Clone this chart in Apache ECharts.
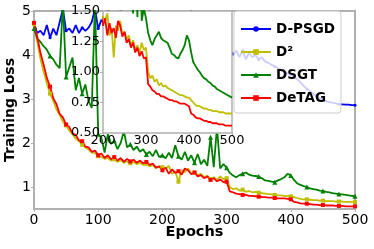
<!DOCTYPE html>
<html><head><meta charset="utf-8">
<script src="https://cdn.jsdelivr.net/npm/echarts@6/dist/echarts.min.js"></script>
<style>html,body{margin:0;padding:0;background:#fff}#c{width:374px;height:249px}</style>
</head><body><div id="c"></div>
<script>
const epochs = [0,5,10,15,20,25,30,35,40,45,50,55,60,65,70,75,80,85,90,95,
100,105,110,115,120,125,130,135,140,145,150,155,160,165,170,175,180,185,190,195,
200,205,210,215,220,225,230,235,240,245,250,255,260,265,270,275,280,285,290,295,
300,305,310,315,320,325,330,335,340,345,350,355,360,365,370,375,380,385,390,395,
400,405,410,415,420,425,430,435,440,445,450,455,460,465,470,475,480,485,490,495,500];

const dpsgd = [4.73,4.5,4.55,4.45,4.68,4.39,4.6,4.45,4.75,5.05,4.55,4.6,4.5,4.68,4.5,4.62,4.55,4.62,4.75,5.05,
4.6,4.8,4.7,5.05,4.75,4.85,4.7,5.05,4.8,4.75,4.9,4.7,5.05,4.8,4.85,4.75,5.02,4.8,4.7,4.9,
4.75,4.85,4.7,4.8,4.75,4.9,4.7,4.85,4.75,5.02,4.8,4.7,4.85,4.75,4.9,4.7,4.85,4.8,4.75,4.9,
4.7,4.15,4.0,4.1,3.95,4.1,3.9,4.05,3.95,4.0,3.9,3.95,3.85,3.82,3.78,3.74,3.7,3.66,3.62,3.58,
3.55,3.5,3.45,3.38,3.3,3.23,3.18,3.12,3.06,3.02,2.98,2.95,2.93,2.92,2.9,2.88,2.88,2.87,2.87,2.86,2.86];

const d2 = [4.7,4.3,3.92,3.62,3.36,3.12,2.96,2.76,2.64,2.48,2.4,2.28,2.2,2.1,2.04,1.96,1.9,1.85,1.78,1.77,
1.7,1.69,1.64,1.66,1.6,1.63,1.57,1.61,1.55,1.58,1.54,1.57,1.52,1.55,1.5,1.53,1.47,1.5,1.43,1.46,
1.45,1.42,1.48,1.3,1.36,1.12,1.38,1.34,1.42,1.3,1.33,1.27,1.3,1.22,1.26,1.18,1.22,1.16,1.24,1.18,
1.2,1.0,0.95,0.97,0.92,0.94,0.89,0.91,0.88,0.89,0.87,0.86,0.85,0.84,0.83,0.82,0.81,0.81,0.8,0.79,
0.79,0.77,0.75,0.73,0.72,0.72,0.71,0.7,0.7,0.69,0.69,0.68,0.68,0.68,0.67,0.67,0.67,0.66,0.66,0.66,0.66];

const dsgt = [4.6,4.38,4.3,4.2,4.12,3.98,3.9,3.78,3.7,5.2,3.5,3.72,3.94,3.2,3.48,3.12,3.33,2.95,2.8,5.2,
2.2,2.12,1.78,2.2,1.98,2.05,1.86,2.0,2.27,1.9,1.97,1.84,1.92,1.8,1.86,1.74,1.8,1.7,1.84,1.68,
1.72,1.65,1.78,1.66,1.95,1.7,1.62,1.8,1.6,1.72,1.55,1.75,1.52,1.62,1.48,2.13,1.45,2.36,1.42,1.52,
1.44,1.32,1.26,1.22,1.27,1.3,1.33,1.28,1.26,1.25,1.24,1.2,1.15,1.14,1.12,1.11,1.15,1.18,1.22,1.3,
1.26,1.16,1.08,1.05,1.02,1.0,0.97,0.95,0.94,0.92,0.91,0.89,0.88,0.86,0.85,0.84,0.83,0.82,0.81,0.8,0.79];

const detag = [4.73,4.42,4.05,3.78,3.48,3.28,3.02,2.88,2.66,2.58,2.42,2.36,2.22,2.18,2.06,2.04,1.92,1.9,1.8,1.83,
1.72,1.76,1.66,1.72,1.63,1.68,1.6,1.66,1.57,1.64,1.58,1.62,1.55,1.6,1.54,1.57,1.5,1.53,1.44,1.47,
1.38,1.44,1.3,1.4,1.32,1.36,1.28,1.42,1.38,1.29,1.33,1.24,1.27,1.2,1.24,1.16,1.2,1.13,1.17,1.11,
1.12,0.9,0.88,0.85,0.84,0.82,0.82,0.8,0.8,0.79,0.78,0.77,0.77,0.76,0.76,0.75,0.74,0.74,0.74,0.73,
0.72,0.66,0.65,0.63,0.62,0.62,0.61,0.6,0.6,0.59,0.59,0.58,0.58,0.58,0.57,0.57,0.57,0.56,0.56,0.56,0.56];

const seriesNames = ['D-PSGD', 'D\u00B2', 'DSGT', 'DeTAG'];
const seriesValues = [dpsgd, d2, dsgt, detag];
const yTicksMain = [1, 2, 3, 4, 5];

const colors = ['#0000ff', '#bfbf00', '#008000', '#ff0000'];
const symbols = ['circle', 'rect', 'triangle', 'rect'];
const symSizes = [3, 4, 5, 4];
const FONT = 'DejaVu Sans';
const GREY = '#b0b0b0';

const series = [];
seriesValues.forEach((vals, i) => {
  const pts = epochs.map((e, k) => [e, vals[k]]);
  series.push({
    type: 'line', name: seriesNames[i], data: pts,
    xAxisIndex: 0, yAxisIndex: 0,
    symbol: symbols[i],
    symbolSize: (v, p) => (p.dataIndex % 5 === 0 ? symSizes[i] : 0),
    showSymbol: true, showAllSymbol: true,
    lineStyle: { color: colors[i], width: 1.8 },
    itemStyle: { color: colors[i] },
    clip: true, animation: false, z: 2
  });
});
seriesValues.forEach((vals, i) => {
  const pts = epochs.map((e, k) => [e, vals[k]]);
  series.push({
    type: 'line', name: seriesNames[i], data: pts,
    xAxisIndex: 1, yAxisIndex: 1,
    symbol: 'none',
    lineStyle: { color: colors[i], width: 1.8 },
    itemStyle: { color: colors[i] },
    clip: true, animation: false, zlevel: 1, z: 5
  });
});

const chart = echarts.init(document.getElementById('c'), null, { renderer: 'canvas' });
chart.setOption({
  animation: false,
  textStyle: { fontFamily: FONT },
  grid: [
    { left: 34, top: 11, width: 321, height: 198, show: true, backgroundColor: 'transparent', borderColor: GREY, borderWidth: 2, containLabel: false, outerBoundsMode: 'none' },
    { left: 103, top: 11, width: 129, height: 122, show: true, backgroundColor: '#ffffff', borderColor: GREY, borderWidth: 1.5, containLabel: false, outerBoundsMode: 'none', zlevel: 1, z: 1 }
  ],
  xAxis: [
    { type: 'value', gridIndex: 0, min: 0, max: 500, interval: 100,
      axisLine: { show: false }, splitLine: { show: false },
      axisTick: { show: true, length: 3, lineStyle: { color: GREY } },
      axisLabel: { fontSize: 14, color: '#000', margin: 4, fontFamily: FONT },
      name: 'Epochs', nameLocation: 'middle', nameGap: 16, nameMoveOverlap: false,
      nameTextStyle: { fontSize: 14.5, fontWeight: 'bold', color: '#000', fontFamily: FONT } },
    { type: 'value', gridIndex: 1, min: 200, max: 500, interval: 100, zlevel: 1, z: 6,
      axisLine: { show: false }, splitLine: { show: false },
      axisTick: { show: true, length: 3, lineStyle: { color: GREY } },
      axisLabel: { fontSize: 13, color: '#000', margin: 1, fontFamily: FONT } }
  ],
  yAxis: [
    { type: 'value', gridIndex: 0, min: 0.5, max: 5,
      axisLine: { show: false }, splitLine: { show: false },
      axisTick: { show: true, length: 3, lineStyle: { color: GREY }, customValues: yTicksMain },
      axisLabel: { fontSize: 14, color: '#000', margin: 3, fontFamily: FONT, customValues: yTicksMain },
      name: 'Training Loss', nameLocation: 'middle', nameGap: 17, nameMoveOverlap: false,
      nameTextStyle: { fontSize: 14, fontWeight: 'bold', color: '#000', fontFamily: FONT } },
    { type: 'value', gridIndex: 1, min: 0.5, max: 1.5, interval: 0.25, zlevel: 1, z: 6,
      axisLine: { show: false }, splitLine: { show: false },
      axisTick: { show: true, length: 3, lineStyle: { color: GREY } },
      axisLabel: { fontSize: 13, color: '#000', margin: 3, fontFamily: FONT, formatter: v => v.toFixed(2) } }
  ],
  legend: {
    orient: 'vertical', left: 234, top: 11,
    itemWidth: 30, itemHeight: 7, itemGap: 9,
    padding: [11, 6, 8, 6],
    backgroundColor: 'rgba(255,255,255,0.8)', borderColor: '#cccccc', borderWidth: 1, borderRadius: 3,
    textStyle: { fontFamily: FONT, fontWeight: 'bold', fontSize: 13.5, color: '#000' },
    data: seriesNames, zlevel: 2, z: 10, selectedMode: false
  },
  series: series
});
</script>
</body></html>
